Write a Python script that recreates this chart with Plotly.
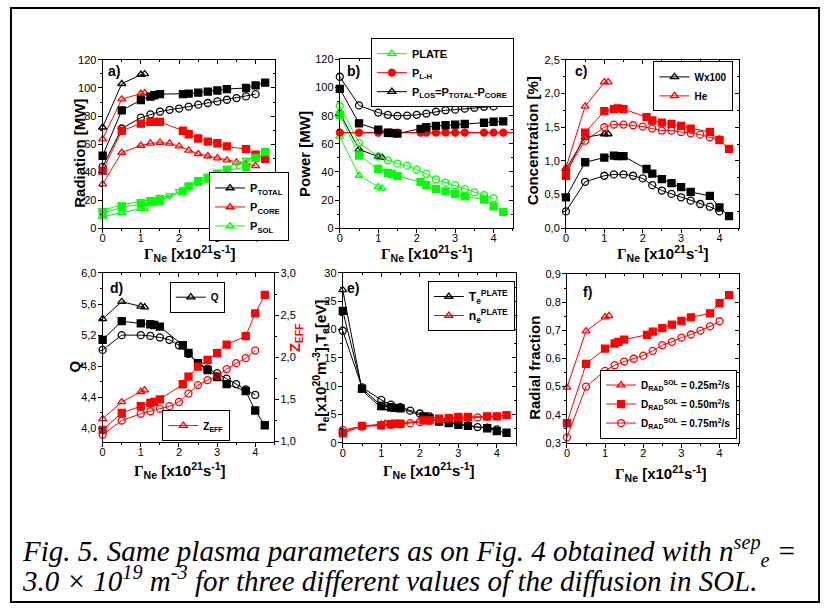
import plotly.graph_objects as go

W, H = 829, 612
FONT = "Liberation Sans, Arial, sans-serif"
SERIF = "Liberation Serif, Times New Roman, serif"
BLACK, RED, GREEN = "#000000", "#ff0000", "#00ff00"

# ---------------- data ----------------
X25 = [0, 0.5, 1.0, 1.1]
X50 = [0, 0.5, 1.0, 1.25, 1.35, 1.5, 2.1, 2.25, 2.5, 2.75, 3.0, 3.25, 3.75, 4.0, 4.25]
X75 = [0, 0.5, 1.0, 1.25, 1.5, 1.75, 2.0, 2.25, 2.5, 2.75, 3.0, 3.25, 3.5, 3.75, 4.0]

# a) radiation
PTOT25 = [72, 103, 109.5, 110]
PTOT50 = [51.7, 84, 91.4, 93.8, 94.8, 95.6, 95.6, 96, 96.7, 97.4, 98.2, 99.2, 100, 101.8, 103.8]
PTOT75 = [43.8, 71.1, 78.8, 81.2, 83.2, 84.4, 85.3, 86.7, 88.1, 89.3, 90.4, 91.6, 92.8, 94, 95.6]
PCORE25 = [63.6, 92, 96, 96.3]
PCORE50 = [41, 69.5, 74.6, 75.8, 75.8, 75.8, 69.5, 67, 64, 61.8, 60.6, 58.3, 56.4, 52.4, 49.4]
PCORE75 = [31.5, 54, 59, 60.5, 61, 60.5, 58.5, 55.5, 53, 51.5, 50, 48.5, 47, 46, 44.5]
PSOL25 = [8.2, 11.2, 14, 14]
PSOL50 = [10.5, 15.2, 17, 18.6, 19, 19.8, 26.3, 29.8, 33.1, 35.4, 37.8, 41.3, 43.6, 50.1, 54.3]
PSOL75 = [12.8, 16.8, 19.1, 20.5, 22.1, 23.3, 26.3, 29.8, 34.9, 37.3, 40.1, 43.1, 46.2, 48.5, 51.3]

# b) power
PLATE25 = [65.3, 37.5, 29.4, 28.3]
PLATE50 = [80.6, 51.7, 42.2, 39.4, 38.7, 37.1, 32.9, 30.6, 27.8, 26.2, 24.3, 22.7, 20.4, 15.5, 11.6]
PLATE75 = [86.9, 60.7, 51, 48.2, 45.9, 44.5, 41.7, 38.7, 34.7, 32.4, 30.6, 27.8, 25.5, 23.6, 21.3]
PLH = [68, 68, 68, 68, 68, 68, 68, 68, 68, 68, 68, 68, 68, 68, 68]
PLOS25 = [82, 56, 51, 50.3]
PLOS50 = [99.1, 74.6, 70, 67.9, 67.6, 67.2, 70.7, 71.8, 72.7, 73.2, 73.7, 74.1, 75, 75.7, 76]
PLOS75 = [107.7, 87.3, 82.2, 80.6, 79.9, 80.1, 80.6, 81.5, 82.9, 83.9, 84.3, 85, 85.7, 86.4, 86.6]

# c) concentration
W25 = [0.88, 1.35, 1.40, 1.40]
W50 = [0.46, 0.98, 1.05, 1.08, 1.07, 1.07, 0.88, 0.81, 0.73, 0.67, 0.61, 0.54, 0.48, 0.31, 0.18]
W75 = [0.25, 0.69, 0.78, 0.80, 0.80, 0.78, 0.74, 0.64, 0.56, 0.51, 0.46, 0.41, 0.36, 0.32, 0.25]
HE25 = [0.90, 1.81, 2.17, 2.17]
HE50 = [0.78, 1.42, 1.74, 1.77, 1.78, 1.77, 1.65, 1.60, 1.57, 1.55, 1.52, 1.48, 1.43, 1.31, 1.18]
HE75 = [0.85, 1.30, 1.50, 1.54, 1.54, 1.53, 1.51, 1.48, 1.45, 1.45, 1.43, 1.41, 1.39, 1.35, 1.32]

# d) Q and Zeff
Q25 = [5.41, 5.63, 5.57, 5.56]
Q50 = [5.14, 5.38, 5.35, 5.34, 5.33, 5.31, 5.07, 4.97, 4.84, 4.75, 4.66, 4.57, 4.48, 4.23, 4.04]
Q75 = [5.01, 5.20, 5.20, 5.19, 5.17, 5.14, 5.07, 4.96, 4.84, 4.77, 4.71, 4.64, 4.57, 4.50, 4.43]
Z25 = [1.27, 1.47, 1.59, 1.61]
Z50 = [1.14, 1.34, 1.42, 1.46, 1.47, 1.50, 1.68, 1.77, 1.89, 1.97, 2.05, 2.15, 2.25, 2.52, 2.74]
Z75 = [1.08, 1.25, 1.33, 1.36, 1.39, 1.42, 1.47, 1.57, 1.67, 1.73, 1.78, 1.86, 1.93, 1.99, 2.08]

# e) plate Te, ne
TE25 = [27, 9.3, 6.2, 6.2]
TE50 = [23.3, 9.6, 6.6, 6.3, 6.2, 6.1, 4.7, 4.4, 3.75, 3.5, 3.2, 3.0, 2.6, 2.1, 1.8]
TE75 = [19.8, 9.8, 7.6, 6.75, 6.3, 5.7, 5.2, 4.7, 4.2, 3.75, 3.3, 3.1, 2.8, 2.7, 2.4]
NE25 = [2.0, 3.0, 3.3, 3.4]
NE50 = [1.7, 3.0, 3.1, 3.3, 3.4, 3.4, 4.0, 4.0, 4.3, 4.4, 4.6, 4.6, 4.7, 4.7, 4.9]
NE75 = [2.3, 2.9, 3.1, 3.2, 3.3, 3.5, 3.7, 3.9, 4.2, 4.3, 4.3, 4.4, 4.5, 4.6, 4.7]

# f) radial fraction
RF25 = [0.497, 0.697, 0.747, 0.751]
RF50 = [0.37, 0.581, 0.635, 0.653, 0.659, 0.667, 0.684, 0.695, 0.708, 0.72, 0.733, 0.746, 0.76, 0.796, 0.825]
RF75 = [0.32, 0.50, 0.556, 0.576, 0.589, 0.599, 0.61, 0.627, 0.647, 0.659, 0.674, 0.685, 0.699, 0.714, 0.732]

X_RANGE = [0, 4.5]


def fx(px):
    return px / W


def fy(py):
    return 1 - py / H


def aid(letter, i):
    return letter if i == 1 else f"{letter}{i}"


def akey(letter, i):
    return f"{letter}axis" if i == 1 else f"{letter}axis{i}"


fig = go.Figure()


def series(i, x, y, color, symbol, legend=None, name=None, yaxis=None):
    fig.add_trace(go.Scatter(
        x=x, y=y, xaxis=aid("x", i), yaxis=yaxis or aid("y", i),
        mode="lines+markers", cliponaxis=False,
        line=dict(color=color, width=1),
        marker=dict(symbol=symbol, color=color, size=7,
                    line=dict(color=color, width=1.3)),
        showlegend=legend is not None, legend=legend or "legend",
        name=name or "", hoverinfo="skip"))


# a)
series(1, X25, PTOT25, BLACK, "triangle-up-open", "legend", "<b>P<sub>TOTAL</sub></b>")
series(1, X25, PCORE25, RED, "triangle-up-open", "legend", "<b>P<sub>CORE</sub></b>")
series(1, X25, PSOL25, GREEN, "triangle-up-open", "legend", "<b>P<sub>SOL</sub></b>")
series(1, X50, PTOT50, BLACK, "square")
series(1, X75, PTOT75, BLACK, "circle-open")
series(1, X50, PCORE50, RED, "square")
series(1, X75, PCORE75, RED, "triangle-up-open")
series(1, X50, PSOL50, GREEN, "square")
series(1, X75, PSOL75, GREEN, "triangle-down-open")

# b)
series(2, X25, PLATE25, GREEN, "triangle-up-open", "legend2", "<b>PLATE</b>")
series(2, X50, PLH, RED, "circle", "legend2", "<b>P<sub>L-H</sub></b>")
series(2, X25, PLOS25, BLACK, "triangle-up-open", "legend2",
       "<b>P<sub>LOS</sub>=P<sub>TOTAL</sub>-P<sub>CORE</sub></b>")
series(2, X50, PLATE50, GREEN, "square")
series(2, X75, PLATE75, GREEN, "circle-open")
series(2, X50, PLOS50, BLACK, "square")
series(2, X75, PLOS75, BLACK, "circle-open")

# c)
series(3, X25, W25, BLACK, "triangle-up-open", "legend3", "<b>Wx100</b>")
series(3, X25, HE25, RED, "triangle-up-open", "legend3", "<b>He</b>")
series(3, X50, W50, BLACK, "square")
series(3, X75, W75, BLACK, "circle-open")
series(3, X50, HE50, RED, "square")
series(3, X75, HE75, RED, "circle-open")

# d)
series(4, X25, Q25, BLACK, "triangle-up-open", "legend4", "<b>Q</b>")
series(4, X50, Q50, BLACK, "square")
series(4, X75, Q75, BLACK, "circle-open")
series(4, X25, Z25, RED, "triangle-up-open", "legend5", "<b>Z<sub>EFF</sub></b>", yaxis="y7")
series(4, X50, Z50, RED, "square", yaxis="y7")
series(4, X75, Z75, RED, "circle-open", yaxis="y7")

# e)
series(5, X25, TE25, BLACK, "triangle-up-open", "legend6", "<b>T<sub>e</sub><sup>PLATE</sup></b>")
series(5, X25, NE25, RED, "triangle-up-open", "legend6", "<b>n<sub>e</sub><sup>PLATE</sup></b>")
series(5, X50, TE50, BLACK, "square")
series(5, X75, TE75, BLACK, "circle-open")
series(5, X50, NE50, RED, "square")
series(5, X75, NE75, RED, "circle-open")

# f)
series(6, X25, RF25, RED, "triangle-up-open", "legend7",
       "<b>D<sub>RAD</sub><sup>SOL</sup> = 0.25m<sup>2</sup>/s</b>")
series(6, X50, RF50, RED, "square", "legend7",
       "<b>D<sub>RAD</sub><sup>SOL</sup> = 0.50m<sup>2</sup>/s</b>")
series(6, X75, RF75, RED, "circle-open", "legend7",
       "<b>D<sub>RAD</sub><sup>SOL</sup> = 0.75m<sup>2</sup>/s</b>")

# P_L-H threshold line across the panel
fig.add_shape(type="line", xref="x2 domain", x0=0, x1=1, yref="y2", y0=PLH[0], y1=PLH[0],
              line=dict(color=RED, width=1.2), layer="below")

# ---------------- axes ----------------
panels = [
    dict(x0=100, x1=272.7, y0=55, y1=226.7, yr=[0, 120], t0=0, dt=20, fmt=None),
    dict(x0=338, x1=511.7, y0=54.5, y1=226.7, yr=[0, 120], t0=0, dt=20, fmt=None),
    dict(x0=565, x1=738.3, y0=55, y1=226.7, yr=[0, 2.5], t0=0, dt=0.5, fmt=".1f"),
    dict(x0=100, x1=272.3, y0=272.3, y1=444.3, yr=[3.83, 6.0], t0=4.0, dt=0.4, fmt=".1f"),
    dict(x0=341, x1=515, y0=272.3, y1=445.7, yr=[0, 30], t0=0, dt=5, fmt=None),
    dict(x0=566, x1=738.3, y0=273.3, y1=445.7, yr=[0.3, 0.9], t0=0.3, dt=0.1, fmt=".1f"),
]


def base_axis(**kw):
    d = dict(showline=True, linecolor="black", linewidth=1, showgrid=False, zeroline=False,
             ticks="outside", ticklen=4, tickwidth=1, tickcolor="black",
             tickfont=dict(family=FONT, size=11, color="black"), fixedrange=True)
    d.update(kw)
    return d


layout = {}
for i, p in enumerate(panels, start=1):
    xdom = [fx(p["x0"]), fx(p["x1"])]
    ydom = [fy(p["y1"]), fy(p["y0"])]
    xminor = dict(dtick=0.5, ticks="outside", ticklen=2, tickcolor="black")
    yminor = dict(dtick=p["dt"] / 2, ticks="outside", ticklen=2, tickcolor="black")
    layout[akey("x", i)] = base_axis(domain=xdom, anchor=aid("y", i), range=X_RANGE,
                                     tick0=0, dtick=1, minor=xminor, ticklabelstandoff=-4)
    yk = dict(domain=ydom, anchor=aid("x", i), range=p["yr"], tick0=p["t0"], dtick=p["dt"],
              minor=yminor, ticklabelstandoff=-1)
    if p["fmt"]:
        yk["tickformat"] = p["fmt"]
    layout[akey("y", i)] = base_axis(**yk)
    # mirrored frame with inward ticks
    layout[f"xaxis{10 + i}"] = base_axis(overlaying=aid("x", i), side="top", anchor=aid("y", i),
                                         range=X_RANGE, tick0=0, dtick=1, ticks="inside",
                                         showticklabels=False,
                                         minor=dict(dtick=0.5, ticks="inside", ticklen=2,
                                                    tickcolor="black"))
    if i != 4:
        layout[f"yaxis{10 + i}"] = base_axis(overlaying=aid("y", i), side="right",
                                             anchor=aid("x", i), range=p["yr"], tick0=p["t0"],
                                             dtick=p["dt"], ticks="inside", showticklabels=False,
                                             minor=dict(dtick=p["dt"] / 2, ticks="inside",
                                                        ticklen=2, tickcolor="black"))
        fig.add_trace(go.Scatter(x=[None], y=[None], xaxis=f"x{10 + i}", yaxis=f"y{10 + i}",
                                 showlegend=False, hoverinfo="skip"))
    else:
        fig.add_trace(go.Scatter(x=[None], y=[None], xaxis=f"x{10 + i}", yaxis=aid("y", i),
                                 showlegend=False, hoverinfo="skip"))

# Zeff right axis of panel d
layout["yaxis7"] = base_axis(overlaying="y4", side="right", anchor="x4", range=[1.0, 3.0],
                             tick0=1.0, dtick=0.5, tickformat=".1f", ticklabelstandoff=-1,
                             minor=dict(dtick=0.25, ticks="outside", ticklen=2, tickcolor="black"))


def legend_box(cx, cy, size=11):
    return dict(x=fx(cx), y=fy(cy), xanchor="center", yanchor="middle", bgcolor="white",
                bordercolor="black", borderwidth=1, itemwidth=30, tracegroupgap=0,
                font=dict(family=FONT, size=size, color="black"))


layout["legend"] = legend_box(247, 205)
layout["legend2"] = legend_box(441, 68)
layout["legend3"] = legend_box(693, 82, 10)
layout["legend4"] = legend_box(195, 297, 10)
layout["legend5"] = legend_box(194, 428, 10)
layout["legend6"] = legend_box(470, 306, 12)
layout["legend7"] = legend_box(668, 406, 10)

# ---------------- text ----------------
ann = []
XT = ("<b><span style='font-family:Liberation Serif'>Γ</span><sub>Ne</sub> "
      "[x10<sup>21</sup>s<sup>-1</sup>]</b>")
for cx, cy in [(188, 252), (426, 252), (662, 252), (178, 474), (428, 474), (660, 477)]:
    ann.append(dict(text=XT, x=fx(cx), y=fy(cy), xref="paper", yref="paper", showarrow=False,
                    xanchor="center", yanchor="middle",
                    font=dict(family=FONT, size=15, color="black")))

YT = [("<b>Radiation [MW]</b>", 76, 150, "black"),
      ("<b>Power [MW]</b>", 302, 151, "black"),
      ("<b>Concentration [%]</b>", 531, 138, "black"),
      ("<b>Q</b>", 72, 368, "black"),
      ("<b>n<sub>e</sub>[x10<sup>20</sup>m<sup>-3</sup>],T<sub>e</sub>[eV]</b>", 319, 367, "black"),
      ("<b>Radial fraction</b>", 534, 369, "black"),
      ("<b>Z<sub>EFF</sub></b>", 293, 338, RED)]
for t, cx, cy, col in YT:
    ann.append(dict(text=t, x=fx(cx), y=fy(cy), xref="paper", yref="paper", showarrow=False,
                    textangle=-90, xanchor="center", yanchor="middle",
                    font=dict(family=FONT, size=15, color=col)))

for t, cx, cy in [("a)", 103, 66), ("b)", 343, 66), ("c)", 572, 66),
                  ("d)", 105, 288), ("e)", 343, 288), ("f)", 580, 292)]:
    ann.append(dict(text=f"<b>{t}</b>", x=fx(cx), y=fy(cy), xref="paper", yref="paper",
                    showarrow=False, xanchor="left", yanchor="middle",
                    font=dict(family=FONT, size=14, color="black")))

CAP1 = "<i>Fig. 5. Same plasma parameters as on Fig. 4 obtained with n<sup>sep</sup><sub>e</sub> =</i>"
CAP2 = "<i>3.0 × 10<sup>19</sup> m<sup>-3</sup> for three different values of the diffusion in SOL.</i>"
for t, cy in [(CAP1, 556), (CAP2, 584)]:
    ann.append(dict(text=t, x=fx(17), y=fy(cy), xref="paper", yref="paper", showarrow=False,
                    xanchor="left", yanchor="middle",
                    font=dict(family=SERIF, size=29, color="black")))

fig.add_shape(type="rect", xref="paper", yref="paper", x0=fx(8), x1=fx(819), y0=fy(608), y1=fy(2),
              line=dict(color="black", width=2))

fig.update_layout(width=W, height=H, autosize=False, margin=dict(l=0, r=0, t=0, b=0, pad=0),
                  paper_bgcolor="white", plot_bgcolor="white", separators=", ",
                  annotations=ann, font=dict(family=FONT, color="black"), **layout)

fig.write_html("out.html")
